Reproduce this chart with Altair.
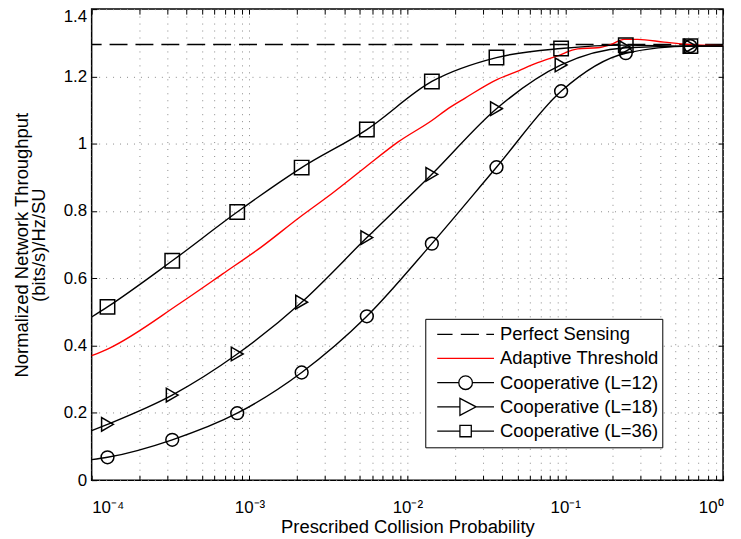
import json
import altair as alt
import pandas as pd

FONT = "Liberation Sans"

series_names = ["Perfect Sensing", "Adaptive Threshold",
                "Cooperative (L=12)", "Cooperative (L=18)", "Cooperative (L=36)"]
series_colors = ["black", "red", "black", "black", "black"]

# Perfect sensing level
perfect_level = [1.295]

# Adaptive threshold (red curve)
adaptive_x = [1e-4, 1.29e-4, 3.61e-4, 6.76e-4, 1.18e-3, 2.06e-3, 3.33e-3, 5.42e-3,
              8.79e-3, 1.43e-2, 1.82e-2, 2.31e-2, 3.75e-2, 4.79e-2, 6.70e-2, 8.95e-2,
              0.120, 0.160, 0.195, 0.236, 0.288, 0.423, 0.596, 1.0]
adaptive_y = [0.370, 0.392, 0.525, 0.613, 0.692, 0.780, 0.852, 0.930,
              1.006, 1.069, 1.105, 1.135, 1.192, 1.212, 1.241, 1.261,
              1.282, 1.285, 1.295, 1.310, 1.310, 1.302, 1.295, 1.291]

# Cooperative curves: first and last values are the curve ends, the rest carry markers
coop_x = [1e-4, 1.26e-4, 3.24e-4, 8.36e-4, 2.14e-3, 5.54e-3, 1.43e-2, 3.67e-2,
          9.42e-2, 0.242, 0.621, 1.0]
coop_marker = [False, True, True, True, True, True, True, True, True, True, True, False]
l12_y = [0.061, 0.068, 0.120, 0.199, 0.320, 0.487, 0.703, 0.930, 1.156, 1.269, 1.290, 1.290]
l18_y = [0.147, 0.166, 0.253, 0.375, 0.529, 0.721, 0.909, 1.104, 1.234, 1.285, 1.290, 1.290]
l36_y = [0.485, 0.515, 0.652, 0.797, 0.929, 1.042, 1.185, 1.256, 1.283, 1.293, 1.290, 1.290]

# Axis ticks
x_major = [1e-4, 1e-3, 1e-2, 1e-1, 1.0]
x_labels = ["10⁻⁴", "10⁻³", "10⁻²", "10⁻¹", "10⁰"]
x_ticks = [m * d for d in x_major[:-1] for m in range(1, 10)] + [1.0]
y_ticks = [0, 0.2, 0.4, 0.6, 0.8, 1.0, 1.2, 1.4]

# Legend symbols (custom paths, unit box -1..1)
legend_paths = [
    "M-1,0H-0.46M-0.17,0H0.47M0.73,0H1",
    "M-1,0H1",
    "M-1,0H-0.24M0.24,0H1M0.24,0A0.24,0.24,0,1,1,-0.24,0A0.24,0.24,0,1,1,0.24,0",
    "M-1,0H-0.2M0.37,0H1M-0.2,-0.3L0.37,0L-0.2,0.3Z",
    "M-1,0H-0.2M0.2,0H1M-0.2,-0.2H0.2V0.2H-0.2Z",
]

# ---- data tables ----
rows = []
for x, y in zip(adaptive_x, adaptive_y):
    rows.append({"series": series_names[1], "x": x, "y": y, "marker": False})
for name, ys in zip(series_names[2:], [l12_y, l18_y, l36_y]):
    for x, y, mk in zip(coop_x, ys, coop_marker):
        rows.append({"series": name, "x": x, "y": y, "marker": mk})
df = pd.DataFrame(rows)
marker_df = df[df["marker"]]
perfect_df = pd.DataFrame({"y": perfect_level})
legend_df = pd.DataFrame({"series": series_names, "x": [1e-3] * 5, "y": [0.5] * 5})

xscale = alt.Scale(type="log", domain=[1e-4, 1.0], nice=False)
yscale = alt.Scale(domain=[0, 1.4], nice=False)

label_expr = (
    "abs(log(datum.value)/LN10 - round(log(datum.value)/LN10)) < 0.001 ? "
    + json.dumps(x_labels, ensure_ascii=False)
    + "[round(log(datum.value)/LN10)+4] : ''"
)

grid_color = "#8a8a8a"

x_axis_bottom = alt.Axis(
    orient="bottom", values=x_ticks, labelExpr=label_expr, labelOverlap=False,
    grid=True, gridDash=[1, 6], gridColor=grid_color, gridWidth=1,
    ticks=True, tickSize=5, tickColor="black", tickWidth=1, offset=-5,
    domain=False, labelFont=FONT, labelFontSize=17, labelColor="black",
    labelPadding=19, title="Prescribed Collision Probability",
    titleFont=FONT, titleFontSize=18.5, titleFontWeight="normal",
    titleColor="black", titlePadding=3,
)
y_axis_left = alt.Axis(
    orient="left", values=y_ticks, format="~g",
    grid=True, gridDash=[1, 6], gridColor=grid_color, gridWidth=1,
    ticks=True, tickSize=5, tickColor="black", tickWidth=1, offset=-5,
    domain=False, labelFont=FONT, labelFontSize=17, labelColor="black",
    labelPadding=5,
    labelOffset={"condition": {"test": "datum.value > 1.39", "value": 7}, "value": 0},
    title=["Normalized Network Throughput", "(bits/s)/Hz/SU"],
    titleFont=FONT, titleFontSize=18.5, titleFontWeight="normal",
    titleColor="black", titlePadding=15, titleLineHeight=17,
)
x_axis_top = alt.Axis(
    orient="top", values=x_ticks, labels=False, grid=False, ticks=True,
    tickSize=5, tickColor="black", tickWidth=1, offset=-5, domain=False, title=None,
)
y_axis_right = alt.Axis(
    orient="right", values=y_ticks, labels=False, grid=False, ticks=True,
    tickSize=5, tickColor="black", tickWidth=1, offset=-5, domain=False, title=None,
)

perfect = alt.Chart(perfect_df).mark_rule(
    color="black", strokeWidth=1.5, strokeDash=[18, 8]
).encode(y=alt.Y("y:Q", scale=yscale, axis=None))

lines = alt.Chart(df).mark_line(strokeWidth=1.4, interpolate="monotone").encode(
    x=alt.X("x:Q", scale=xscale, axis=x_axis_bottom),
    y=alt.Y("y:Q", scale=yscale, axis=y_axis_left),
    color=alt.Color("series:N", scale=alt.Scale(domain=series_names, range=series_colors), legend=None),
    detail="series:N",
)

points = alt.Chart(marker_df).mark_point(
    filled=False, color="black", strokeWidth=1.5, opacity=1
).encode(
    x=alt.X("x:Q", scale=xscale, axis=x_axis_top),
    y=alt.Y("y:Q", scale=yscale, axis=y_axis_right),
    shape=alt.Shape("series:N", scale=alt.Scale(domain=series_names[2:], range=["circle", "triangle-right", "square"]), legend=None),
    size=alt.Size("series:N", scale=alt.Scale(domain=series_names[2:], range=[165, 210, 140]), legend=None),
)

legend_layer = alt.Chart(legend_df).mark_point(
    filled=False, strokeWidth=1.3, opacity=1, size=3249
).encode(
    x=alt.X("x:Q", scale=xscale, axis=None),
    y=alt.Y("y:Q", scale=yscale, axis=None),
    color=alt.Color("series:N", scale=alt.Scale(domain=series_names, range=series_colors),
                    legend=alt.Legend(title=None)),
    shape=alt.Shape("series:N", scale=alt.Scale(domain=series_names, range=legend_paths),
                    legend=alt.Legend(title=None)),
).transform_filter("false")

chart = alt.layer(perfect, lines, points, legend_layer).resolve_scale(
    color="independent", shape="independent", size="independent"
).resolve_axis(x="independent", y="independent").properties(
    width=634, height=473,
    autosize=alt.AutoSizeParams(type="none"),
    padding={"left": 84, "top": 0, "right": 10, "bottom": 70},
).configure_view(stroke="black", strokeWidth=1.5).configure_legend(
    orient="none", legendX=335, legendY=311, padding=3.5,
    strokeColor="black", strokeWidth=1, fillColor="white",
    symbolSize=3249, clipHeight=24, rowPadding=0.3, symbolOffset=7.5,
    labelOffset=5, labelFont=FONT, labelFontSize=18.5, labelColor="black",
    symbolStrokeWidth=1.3, symbolFillColor="transparent", labelLimit=300,
)

chart.save("out.html", embed_options={"renderer": "svg", "actions": False})
